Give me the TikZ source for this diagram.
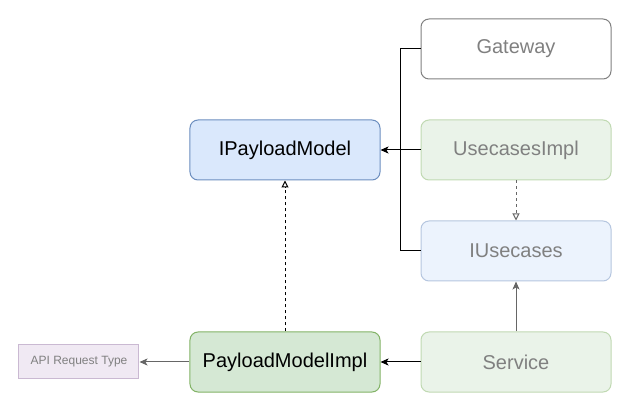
\documentclass[tikz,border=0pt]{standalone}
\usepackage{fontspec}
\setmainfont{Liberation Sans}
\usepackage{xcolor}
\usetikzlibrary{arrows.meta, positioning, calc}

\definecolor{blueFill}{HTML}{DAE8FC}
\definecolor{blueLine}{HTML}{6C8EBF}
\definecolor{greenFill}{HTML}{D5E8D4}
\definecolor{greenLine}{HTML}{82B366}
\definecolor{paleGreenFill}{HTML}{EAF3E9}
\definecolor{paleGreenLine}{HTML}{C0D9B2}
\definecolor{paleBlueFill}{HTML}{ECF3FD}
\definecolor{paleBlueLine}{HTML}{B5C6DF}
\definecolor{paleLilacFill}{HTML}{F0E9F3}
\definecolor{paleLilacLine}{HTML}{CAB9D2}
\definecolor{fadedText}{HTML}{808080}
\definecolor{fadedArrow}{HTML}{666666}

\begin{document}
\begin{tikzpicture}[auto,
        block/.style={rectangle, draw, line width=1pt, align=center, rounded corners=8pt, font=\fontsize{20pt}{24pt}\selectfont, minimum width=190pt, minimum height=60pt, inner sep=0pt},
        fadedblock/.style={block, text=fadedText},
        typeblock/.style={rectangle, draw=paleLilacLine, fill=paleLilacFill, line width=1pt, font=\fontsize{12pt}{14pt}\selectfont, text=fadedText, minimum width=120pt, minimum height=34pt, inner sep=0pt},
        arrow/.style={-{Stealth[length=8pt, width=7pt, inset=2pt]}, line width=1pt},
        realise/.style={-{Triangle[open, length=7pt, width=7pt]}, line width=1pt, dash pattern=on 3pt off 3pt}]

        % Nodes
        \node[block, fill=blueFill, draw=blueLine] (ipayload) {IPayloadModel};
        \node[fadedblock, fill=paleGreenFill, draw=paleGreenLine, right=40pt of ipayload] (usecasesimpl) {UsecasesImpl};
        \node[fadedblock, fill=white, draw=fadedText, above=40pt of usecasesimpl] (gateway) {Gateway};
        \node[fadedblock, fill=paleBlueFill, draw=paleBlueLine, below=40pt of usecasesimpl] (iusecases) {IUsecases};
        \node[fadedblock, fill=paleGreenFill, draw=paleGreenLine, below=50pt of iusecases] (service) {Service};
        \node[block, fill=greenFill, draw=greenLine, left=40pt of service] (payloadimpl) {PayloadModelImpl};
        \node[typeblock, left=50pt of payloadimpl] (apitype) {API Request Type};

        \coordinate (junction) at ($(ipayload.east)!0.5!(usecasesimpl.west)$);

        \useasboundingbox (-285pt,-261pt) rectangle (346pt,150pt);

        % Arrows
        \draw[line width=1pt] (gateway.west) -| (junction);
        \draw[line width=1pt] (iusecases.west) -| (junction);
        \draw[arrow] (usecasesimpl.west) -- (ipayload.east);
        \draw[realise, draw=fadedArrow] (usecasesimpl) -- (iusecases);
        \draw[arrow, draw=fadedArrow] (service) -- (iusecases);
        \draw[arrow] (service) -- (payloadimpl);
        \draw[realise] (payloadimpl) -- (ipayload);
        \draw[arrow, draw=fadedArrow] (payloadimpl) -- (apitype);

    \end{tikzpicture}
\end{document}
